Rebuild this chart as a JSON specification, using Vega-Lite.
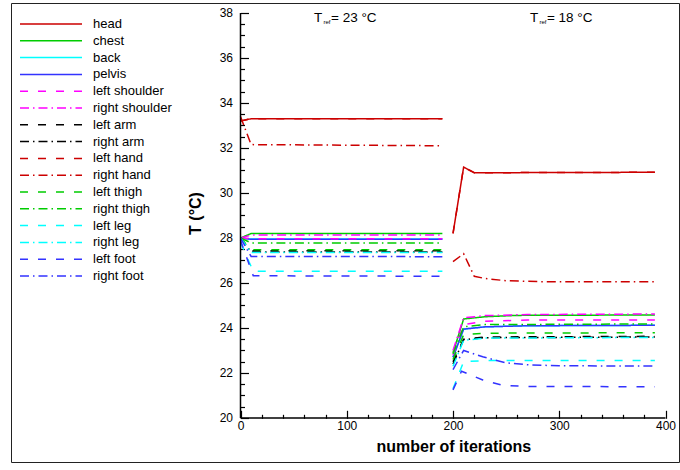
{
  "$schema": "https://vega.github.io/schema/vega-lite/v6.json",
  "width": 668,
  "height": 459,
  "autosize": {"type": "none"},
  "padding": {"left": 11, "top": 3, "right": 1, "bottom": 8},
  "background": "white",
  "config": {
    "font": "Liberation Sans",
    "view": {"stroke": "#222222", "strokeWidth": 1},
    "axis": {"grid": false, "labelFont": "Liberation Sans", "titleFont": "Liberation Sans", "labelColor": "#000", "titleColor": "#000", "tickColor": "#000", "tickWidth": 1.2, "labelOverlap": false, "labelFlush": false}
  },
  "datasets": {
    "lines": [
      {"part": "head", "seg": "a", "x": 0, "T": 33.2}, {"part": "head", "seg": "a", "x": 10, "T": 33.3}, {"part": "head", "seg": "a", "x": 190, "T": 33.3},
      {"part": "head", "seg": "b", "x": 200, "T": 28.2}, {"part": "head", "seg": "b", "x": 210, "T": 31.15}, {"part": "head", "seg": "b", "x": 220, "T": 30.9}, {"part": "head", "seg": "b", "x": 390, "T": 30.92},
      {"part": "chest", "seg": "a", "x": 0, "T": 28.0}, {"part": "chest", "seg": "a", "x": 10, "T": 28.2}, {"part": "chest", "seg": "a", "x": 190, "T": 28.2},
      {"part": "chest", "seg": "b", "x": 200, "T": 22.9}, {"part": "chest", "seg": "b", "x": 210, "T": 24.4}, {"part": "chest", "seg": "b", "x": 230, "T": 24.5}, {"part": "chest", "seg": "b", "x": 260, "T": 24.56}, {"part": "chest", "seg": "b", "x": 390, "T": 24.58},
      {"part": "back", "seg": "a", "x": 0, "T": 28.0}, {"part": "back", "seg": "a", "x": 10, "T": 27.95}, {"part": "back", "seg": "a", "x": 190, "T": 27.95},
      {"part": "back", "seg": "b", "x": 200, "T": 22.7}, {"part": "back", "seg": "b", "x": 210, "T": 23.95}, {"part": "back", "seg": "b", "x": 230, "T": 24.05}, {"part": "back", "seg": "b", "x": 270, "T": 24.1}, {"part": "back", "seg": "b", "x": 390, "T": 24.12},
      {"part": "pelvis", "seg": "a", "x": 0, "T": 28.0}, {"part": "pelvis", "seg": "a", "x": 10, "T": 27.94}, {"part": "pelvis", "seg": "a", "x": 190, "T": 27.94},
      {"part": "pelvis", "seg": "b", "x": 200, "T": 22.7}, {"part": "pelvis", "seg": "b", "x": 210, "T": 23.95}, {"part": "pelvis", "seg": "b", "x": 230, "T": 24.05}, {"part": "pelvis", "seg": "b", "x": 270, "T": 24.1}, {"part": "pelvis", "seg": "b", "x": 390, "T": 24.12},
      {"part": "left shoulder", "seg": "a", "x": 0, "T": 28.0}, {"part": "left shoulder", "seg": "a", "x": 10, "T": 27.97}, {"part": "left shoulder", "seg": "a", "x": 190, "T": 27.97},
      {"part": "left shoulder", "seg": "b", "x": 200, "T": 22.8}, {"part": "left shoulder", "seg": "b", "x": 210, "T": 24.15}, {"part": "left shoulder", "seg": "b", "x": 230, "T": 24.3}, {"part": "left shoulder", "seg": "b", "x": 270, "T": 24.35}, {"part": "left shoulder", "seg": "b", "x": 390, "T": 24.36},
      {"part": "right shoulder", "seg": "a", "x": 0, "T": 28.0}, {"part": "right shoulder", "seg": "a", "x": 10, "T": 28.13}, {"part": "right shoulder", "seg": "a", "x": 190, "T": 28.13},
      {"part": "right shoulder", "seg": "b", "x": 200, "T": 23.0}, {"part": "right shoulder", "seg": "b", "x": 210, "T": 24.45}, {"part": "right shoulder", "seg": "b", "x": 230, "T": 24.55}, {"part": "right shoulder", "seg": "b", "x": 270, "T": 24.6}, {"part": "right shoulder", "seg": "b", "x": 390, "T": 24.62},
      {"part": "left arm", "seg": "a", "x": 0, "T": 28.0}, {"part": "left arm", "seg": "a", "x": 10, "T": 27.43}, {"part": "left arm", "seg": "a", "x": 190, "T": 27.43},
      {"part": "left arm", "seg": "b", "x": 200, "T": 22.5}, {"part": "left arm", "seg": "b", "x": 210, "T": 23.5}, {"part": "left arm", "seg": "b", "x": 230, "T": 23.6}, {"part": "left arm", "seg": "b", "x": 390, "T": 23.63},
      {"part": "right arm", "seg": "a", "x": 0, "T": 28.0}, {"part": "right arm", "seg": "a", "x": 10, "T": 27.38}, {"part": "right arm", "seg": "a", "x": 190, "T": 27.38},
      {"part": "right arm", "seg": "b", "x": 200, "T": 22.4}, {"part": "right arm", "seg": "b", "x": 210, "T": 23.48}, {"part": "right arm", "seg": "b", "x": 230, "T": 23.57}, {"part": "right arm", "seg": "b", "x": 390, "T": 23.6},
      {"part": "left hand", "seg": "a", "x": 0, "T": 33.2}, {"part": "left hand", "seg": "a", "x": 10, "T": 33.3}, {"part": "left hand", "seg": "a", "x": 190, "T": 33.3},
      {"part": "left hand", "seg": "b", "x": 200, "T": 28.2}, {"part": "left hand", "seg": "b", "x": 210, "T": 31.15}, {"part": "left hand", "seg": "b", "x": 220, "T": 30.9}, {"part": "left hand", "seg": "b", "x": 390, "T": 30.92},
      {"part": "right hand", "seg": "a", "x": 0, "T": 33.4}, {"part": "right hand", "seg": "a", "x": 10, "T": 32.15}, {"part": "right hand", "seg": "a", "x": 190, "T": 32.1},
      {"part": "right hand", "seg": "b", "x": 200, "T": 26.95}, {"part": "right hand", "seg": "b", "x": 210, "T": 27.3}, {"part": "right hand", "seg": "b", "x": 220, "T": 26.3}, {"part": "right hand", "seg": "b", "x": 230, "T": 26.2}, {"part": "right hand", "seg": "b", "x": 250, "T": 26.1}, {"part": "right hand", "seg": "b", "x": 280, "T": 26.06}, {"part": "right hand", "seg": "b", "x": 390, "T": 26.05},
      {"part": "left thigh", "seg": "a", "x": 0, "T": 28.0}, {"part": "left thigh", "seg": "a", "x": 10, "T": 27.48}, {"part": "left thigh", "seg": "a", "x": 190, "T": 27.48},
      {"part": "left thigh", "seg": "b", "x": 200, "T": 22.6}, {"part": "left thigh", "seg": "b", "x": 210, "T": 23.7}, {"part": "left thigh", "seg": "b", "x": 230, "T": 23.77}, {"part": "left thigh", "seg": "b", "x": 390, "T": 23.79},
      {"part": "right thigh", "seg": "a", "x": 0, "T": 28.0}, {"part": "right thigh", "seg": "a", "x": 10, "T": 27.78}, {"part": "right thigh", "seg": "a", "x": 190, "T": 27.78},
      {"part": "right thigh", "seg": "b", "x": 200, "T": 22.85}, {"part": "right thigh", "seg": "b", "x": 210, "T": 24.05}, {"part": "right thigh", "seg": "b", "x": 230, "T": 24.15}, {"part": "right thigh", "seg": "b", "x": 390, "T": 24.18},
      {"part": "left leg", "seg": "a", "x": 0, "T": 27.8}, {"part": "left leg", "seg": "a", "x": 12, "T": 26.52}, {"part": "left leg", "seg": "a", "x": 190, "T": 26.52},
      {"part": "left leg", "seg": "b", "x": 200, "T": 21.3}, {"part": "left leg", "seg": "b", "x": 210, "T": 22.5}, {"part": "left leg", "seg": "b", "x": 230, "T": 22.55}, {"part": "left leg", "seg": "b", "x": 390, "T": 22.55},
      {"part": "right leg", "seg": "a", "x": 0, "T": 28.0}, {"part": "right leg", "seg": "a", "x": 10, "T": 27.36}, {"part": "right leg", "seg": "a", "x": 190, "T": 27.36},
      {"part": "right leg", "seg": "b", "x": 200, "T": 22.3}, {"part": "right leg", "seg": "b", "x": 210, "T": 23.45}, {"part": "right leg", "seg": "b", "x": 230, "T": 23.55}, {"part": "right leg", "seg": "b", "x": 390, "T": 23.58},
      {"part": "left foot", "seg": "a", "x": 0, "T": 27.9}, {"part": "left foot", "seg": "a", "x": 12, "T": 26.32}, {"part": "left foot", "seg": "a", "x": 190, "T": 26.3},
      {"part": "left foot", "seg": "b", "x": 200, "T": 21.25}, {"part": "left foot", "seg": "b", "x": 208, "T": 22.08}, {"part": "left foot", "seg": "b", "x": 228, "T": 21.69}, {"part": "left foot", "seg": "b", "x": 247, "T": 21.45}, {"part": "left foot", "seg": "b", "x": 270, "T": 21.4}, {"part": "left foot", "seg": "b", "x": 390, "T": 21.39},
      {"part": "right foot", "seg": "a", "x": 0, "T": 28.0}, {"part": "right foot", "seg": "a", "x": 10, "T": 27.18}, {"part": "right foot", "seg": "a", "x": 190, "T": 27.17},
      {"part": "right foot", "seg": "b", "x": 200, "T": 22.15}, {"part": "right foot", "seg": "b", "x": 210, "T": 23.0}, {"part": "right foot", "seg": "b", "x": 228, "T": 22.72}, {"part": "right foot", "seg": "b", "x": 250, "T": 22.45}, {"part": "right foot", "seg": "b", "x": 272, "T": 22.36}, {"part": "right foot", "seg": "b", "x": 300, "T": 22.32}, {"part": "right foot", "seg": "b", "x": 390, "T": 22.31}
    ],
    "vaxis": [{"x": 0, "T": 20, "T2": 38}],
    "haxis": [{"x": 0, "x2": 400, "T": 20}],
    "notes": [
      {"x": 69.2, "T": 37.61, "txt": "T"}, {"x": 85.2, "T": 37.61, "txt": "= 23 °C"},
      {"x": 272.5, "T": 37.61, "txt": "T"}, {"x": 288.4, "T": 37.61, "txt": "= 18 °C"}
    ],
    "subs": [
      {"x": 78.1, "T": 37.5, "txt": "ref"}, {"x": 281.4, "T": 37.5, "txt": "ref"}
    ]
  },
  "encoding": {
    "x": {
      "field": "x", "type": "quantitative",
      "scale": {"domain": [-216, 412.7], "nice": false, "zero": false},
      "axis": {
        "orient": "bottom", "offset": -43.7, "domain": false,
        "values": [0, 20, 40, 60, 80, 100, 120, 140, 160, 180, 200, 220, 240, 260, 280, 300, 320, 340, 360, 380, 400],
        "labelExpr": "datum.value % 100 === 0 ? format(datum.value, 'd') : ''",
        "tickSize": {"condition": {"test": "datum.value % 100 === 0", "value": -8}, "value": -4},
        "labelPadding": 10, "labelFontSize": 12,
        "title": "number of iterations", "titleFontSize": 16, "titleFontWeight": "bold",
        "titleX": 442.3, "titleY": 33, "titleBaseline": "alphabetic", "titleAlign": "center"
      }
    },
    "y": {
      "field": "T", "type": "quantitative",
      "scale": {"domain": [18.044, 38.444], "nice": false, "zero": false},
      "axis": {
        "orient": "left", "offset": -229.5, "domain": false,
        "values": [20, 20.5, 21, 21.5, 22, 22.5, 23, 23.5, 24, 24.5, 25, 25.5, 26, 26.5, 27, 27.5, 28, 28.5, 29, 29.5, 30, 30.5, 31, 31.5, 32, 32.5, 33, 33.5, 34, 34.5, 35, 35.5, 36, 36.5, 37, 37.5, 38],
        "labelExpr": "datum.value % 2 === 0 ? format(datum.value, 'd') : ''",
        "tickSize": {"condition": {"test": "datum.value % 2 === 0", "value": -8}, "value": -4},
        "labelPadding": 16, "labelFontSize": 12,
        "title": "T (°C)", "titleFontSize": 16, "titleFontWeight": "bold",
        "titleAngle": -90, "titleX": -45, "titleY": 210, "titleBaseline": "middle", "titleAlign": "center"
      }
    }
  },
  "layer": [
    {
      "data": {"name": "lines"},
      "mark": {"type": "line", "strokeWidth": 1.5},
      "encoding": {
        "color": {
          "field": "part", "type": "nominal",
          "scale": {
            "domain": ["head", "chest", "back", "pelvis", "left shoulder", "right shoulder", "left arm", "right arm", "left hand", "right hand", "left thigh", "right thigh", "left leg", "right leg", "left foot", "right foot"],
            "range": ["#cc0000", "#00cc00", "#00ffff", "#3333ff", "#ff00ff", "#ff00ff", "#000000", "#000000", "#cc0000", "#cc0000", "#00cc00", "#00cc00", "#00ffff", "#00ffff", "#3333ff", "#3333ff"]
          },
          "legend": {"title": null, "orient": "none", "legendX": 8, "legendY": 13, "padding": 0, "symbolType": "stroke", "symbolSize": 3844, "symbolStrokeWidth": 1.5, "labelFontSize": 13, "labelFont": "Liberation Sans", "labelColor": "#000", "labelOffset": 10, "clipHeight": 16, "rowPadding": 0.8, "labelLimit": 200}
        },
        "strokeDash": {
          "field": "part", "type": "nominal",
          "scale": {
            "domain": ["head", "chest", "back", "pelvis", "left shoulder", "right shoulder", "left arm", "right arm", "left hand", "right hand", "left thigh", "right thigh", "left leg", "right leg", "left foot", "right foot"],
            "range": [[1, 0], [1, 0], [1, 0], [1, 0], [8, 10], [9, 4, 1.5, 4], [8, 10], [9, 4, 1.5, 4], [8, 10], [9, 4, 1.5, 4], [8, 10], [9, 4, 1.5, 4], [8, 10], [9, 4, 1.5, 4], [8, 10], [9, 4, 1.5, 4]]
          },
          "legend": {"title": null, "orient": "none", "legendX": 8, "legendY": 13, "padding": 0, "symbolType": "stroke", "symbolSize": 3844, "symbolStrokeWidth": 1.5, "labelFontSize": 13, "labelFont": "Liberation Sans", "labelColor": "#000", "labelOffset": 10, "clipHeight": 16, "rowPadding": 0.8, "labelLimit": 200}
        },
        "detail": {"field": "seg", "type": "nominal"}
      }
    },
    {
      "data": {"name": "vaxis"},
      "mark": {"type": "rule", "color": "#000", "strokeWidth": 1.5},
      "encoding": {"y2": {"field": "T2"}}
    },
    {
      "data": {"name": "haxis"},
      "mark": {"type": "rule", "color": "#000", "strokeWidth": 1.5},
      "encoding": {"x2": {"field": "x2"}}
    },
    {
      "data": {"name": "notes"},
      "mark": {"type": "text", "align": "left", "baseline": "alphabetic", "fontSize": 13.5, "font": "Liberation Sans", "color": "#000"},
      "encoding": {"text": {"field": "txt"}}
    },
    {
      "data": {"name": "subs"},
      "mark": {"type": "text", "align": "left", "baseline": "alphabetic", "fontSize": 6, "font": "Liberation Sans", "color": "#000"},
      "encoding": {"text": {"field": "txt"}}
    }
  ]
}
